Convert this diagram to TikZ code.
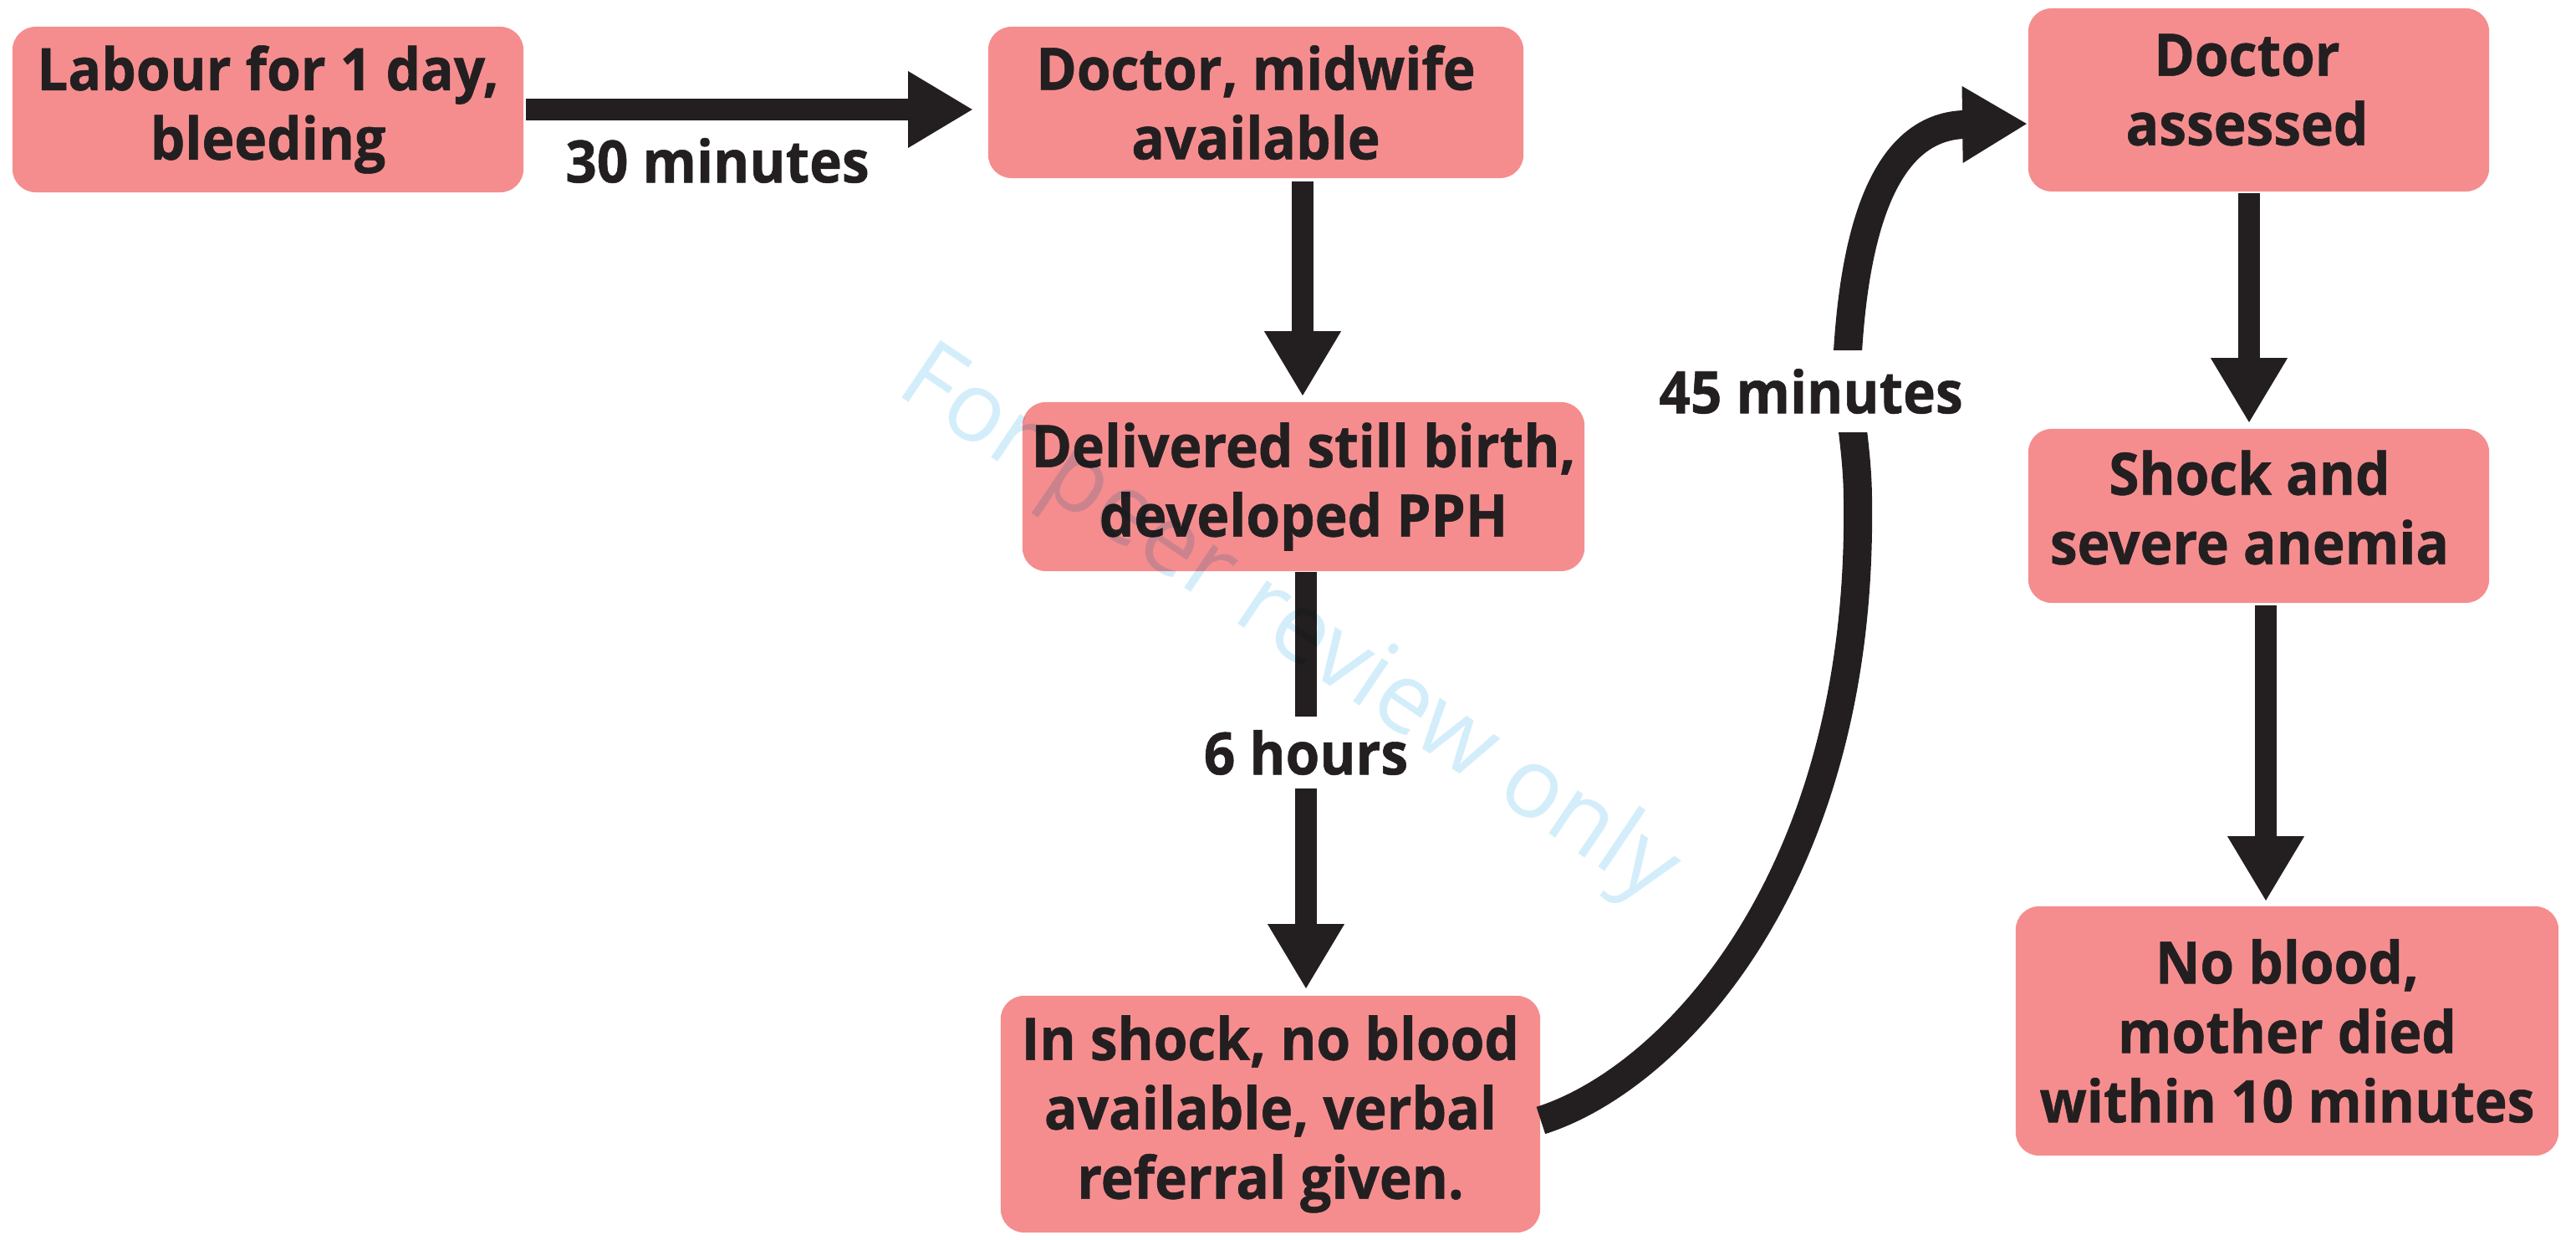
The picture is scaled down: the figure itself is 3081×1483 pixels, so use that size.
\documentclass[tikz,border=0pt]{standalone}
\usepackage{fontspec}
\usetikzlibrary{arrows.meta}
\newfontfamily\condfont{Open Sans}[FakeStretch=0.94, FakeBold=0.8]
\newfontfamily\markfont{Open Sans}
\definecolor{boxpink}{RGB}{245,141,143}
\definecolor{ink}{RGB}{35,31,32}
\definecolor{markblue}{RGB}{211,238,250}

\begin{document}
\begin{tikzpicture}[x=0.01cm, y=-0.01cm,
  box/.style={fill=boxpink, rounded corners=0.28cm, inner sep=0pt, align=center, text=ink},
  condtext/.style={font=\condfont\bfseries\fontsize{19.9pt}{23.6pt}\selectfont},
  boxtext/.style={condtext, text=ink, align=center, inner sep=0pt},
  conn/.style={draw=ink, line width=0.26cm,
    -{Triangle[width=0.86cm, length=0.78cm]}},
  timelbl/.style={condtext, text=ink, inner xsep=0.05cm},
]
\useasboundingbox (0,0) rectangle (3081,1483);

% event boxes
\node[box, condtext, minimum width=6.11cm, minimum height=1.98cm] (A) at (320.5,131)
  {Labour for 1 day,\\bleeding};
\node[box, condtext, minimum width=6.40cm, minimum height=1.81cm] (B) at (1502,122.5)
  {Doctor, midwife\\available};
\node[box, condtext, minimum width=6.72cm, minimum height=2.02cm] (C) at (1559,582)
  {Delivered still birth,\\developed PPH};
\node[box, condtext, minimum width=6.45cm, minimum height=2.83cm] (D) at (1519.5,1332.5)
  {In shock, no blood\\available, verbal\\referral given.};
\node[box, minimum width=5.51cm, minimum height=2.19cm] (E) at (2701.5,119.5) {};
\node[boxtext] (Etext) at ([xshift=-0.14cm, yshift=0.12cm]E.center) {Doctor\\assessed};
\node[box, minimum width=5.51cm, minimum height=2.08cm] (F) at (2701.5,617) {};
\node[boxtext] (Ftext) at ([xshift=-0.11cm, yshift=0.10cm]F.center) {Shock and\\severe anemia};
\node[box, condtext, minimum width=6.49cm, minimum height=2.98cm] (G) at (2735.5,1233)
  {No blood,\\mother died\\within 10 minutes};

% straight connectors
\draw[conn, shorten <=0.02cm, shorten >=0.17cm] (A.east) -- (A.east -| B.west)
  node[timelbl, pos=0.417, yshift=-0.61cm] {30 minutes};
\draw[conn, shorten <=0.03cm, shorten >=0.06cm] ([xshift=-0.01cm]C.north |- B.south) -- ([xshift=-0.01cm]C.north);
\draw[conn, shorten >=0.07cm] ([xshift=0.03cm]C.south) -- ([xshift=0.03cm]C.south |- D.north)
  node[timelbl, fill=white, inner ysep=0.16cm, pos=0.427] {6 hours};
\draw[conn, shorten <=0.01cm, shorten >=0.06cm] ([xshift=-0.115cm]E.south) -- ([xshift=-0.115cm]E.south |- F.north);
\draw[conn, shorten <=0.02cm, shorten >=0.05cm] ([xshift=0.085cm]F.south) -- ([xshift=0.085cm]F.south |- G.north);

% curved referral connector
\draw[conn, line width=0.34cm] ([yshift=-0.075cm]D.east)
  .. controls (2000,1290) and (2228,1050) .. (2222,600)
  .. controls (2222,530) and (2207,480) .. (2210,420)
  .. controls (2220,260) and (2260,150) .. ([yshift=-0.285cm]E.west);
\node[timelbl, fill=white, inner ysep=0.22cm] (wait) at (2166,468) {45 minutes};

% watermark
\begin{scope}[blend mode=multiply]
  \node[text=markblue, font=\markfont\fontsize{33pt}{40pt}\selectfont, rotate=-34, inner sep=0pt]
    (mark) at (1540,750) {For peer review only};
\end{scope}
\end{tikzpicture}
\end{document}
